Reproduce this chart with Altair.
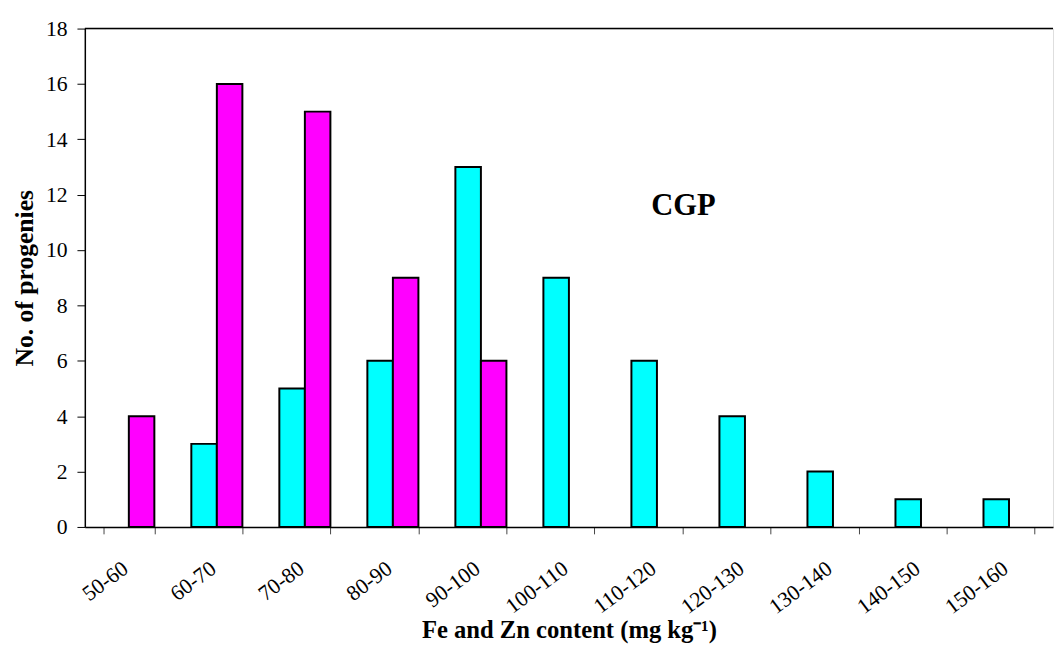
import altair as alt
import pandas as pd

categories = ["50-60", "60-70", "70-80", "80-90", "90-100", "100-110",
              "110-120", "120-130", "130-140", "140-150", "150-160"]
fe_counts = [0, 3, 5, 6, 13, 9, 6, 4, 2, 1, 1]
zn_counts = [4, 16, 15, 9, 6, 0, 0, 0, 0, 0, 0]
series = ["Fe", "Zn"]
colors = ["#00FFFF", "#FF00FF"]
y_ticks = list(range(0, 19, 2))

rows = []
for c, f, z in zip(categories, fe_counts, zn_counts):
    rows.append({"range": c, "element": "Fe", "count": f})
    rows.append({"range": c, "element": "Zn", "count": z})
df = pd.DataFrame(rows)

annot = pd.DataFrame({"range": ["110-120"], "count": [11.6], "label": ["CGP"]})

FONT = "Liberation Serif"

x_enc = alt.X("range:N", sort=categories,
              scale=alt.Scale(domain=categories, paddingInner=0.42, paddingOuter=0.21),
              axis=alt.Axis(title="Fe and Zn content (mg kg⁻¹)", labelAngle=-37,
                            labelAlign="right", labelBaseline="middle",
                            labelPadding=32, labelOffset=-4, tickBand="extent",
                            tickSize=7, tickColor="#444444", domainColor="black",
                            domainWidth=1.5, tickWidth=1, labelFontSize=22,
                            labelFont=FONT, labelColor="black", titleFont=FONT,
                            titleFontSize=25, titleFontWeight="bold", titleColor="black",
                            titlePadding=0, labelOverlap=False))
y_enc = alt.Y("count:Q", scale=alt.Scale(domain=[0, 18], nice=False),
              axis=alt.Axis(title="No. of progenies", values=y_ticks, grid=False,
                            tickSize=8, tickColor="black", domainColor="black",
                            domainWidth=1.5, tickWidth=1, labelFontSize=22,
                            labelFont=FONT, labelColor="black", labelPadding=10,
                            titleFont=FONT, titleFontSize=26, titleFontWeight="bold",
                            titleColor="black", titlePadding=8))

bars = alt.Chart(df).transform_filter(alt.datum["count"] > 0).mark_bar(
    stroke="black", strokeWidth=2
).encode(
    x=x_enc,
    y=y_enc,
    xOffset=alt.XOffset("element:N", sort=series,
                        scale=alt.Scale(domain=series, paddingInner=0, paddingOuter=0)),
    color=alt.Color("element:N", scale=alt.Scale(domain=series, range=colors), legend=None),
)

top_rule = alt.Chart(pd.DataFrame({"top": [18]})).mark_rule(
    color="black", strokeWidth=1.5
).encode(y=alt.Y("top:Q"))

text = alt.Chart(annot).mark_text(
    font=FONT, fontSize=31, fontWeight="bold", color="black", dx=27
).encode(
    x=alt.X("range:N", sort=categories),
    y=alt.Y("count:Q"),
    text="label:N",
)

chart = alt.layer(bars, top_rule, text).properties(
    width=983, height=506,
    padding={"left": 4, "top": 5, "right": 0, "bottom": 0},
).configure_view(stroke=None).configure(background="white")

chart.save("out.html", embed_options={"renderer": "svg", "actions": False})
